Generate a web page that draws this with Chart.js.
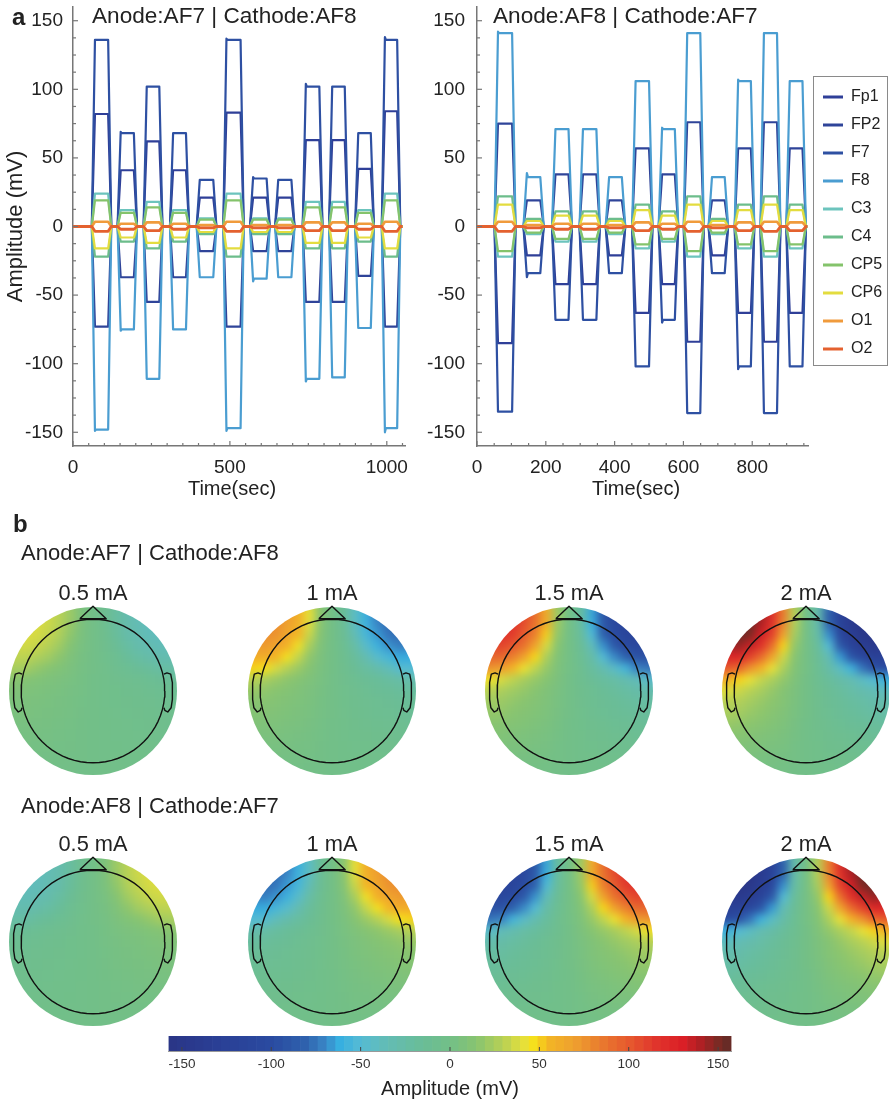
<!DOCTYPE html>
<html><head><meta charset="utf-8">
<style>
html,body{margin:0;padding:0;background:#fff;width:889px;height:1103px;overflow:hidden;font-family:"Liberation Sans",Arial,sans-serif;color:#222}
canvas{position:absolute;display:block}
.t{position:absolute;white-space:nowrap;line-height:1;color:#222}
.heat{position:absolute;overflow:hidden}
.heat canvas{left:0;top:0;filter:blur(4px)}
</style>
<script src="https://cdn.jsdelivr.net/npm/chart.js@4/dist/chart.umd.min.js"></script>
</head><body>
<script>
/* ---------- channels ---------- */
const channels=['Fp1','FP2','F7','F8','C3','C4','CP5','CP6','O1','O2'];
const channelColors=['#2f3f98','#2f4499','#2e50a2','#4a9dd1','#6cc4bd','#6cbd8b','#84c36b','#e3dc3f','#f09b3c','#e4612f'];
const channelWidths=[2.2,2.2,2.2,2.2,2.2,2.2,2.2,2.2,2.6,2.8];

/* ---------- panel a, left: block on/off times (sec) ---------- */
const leftOn =[70,152,235,319,404,489,574,654,742,826,909,994];
const leftOff=[112,194,275,360,447,534,617,696,785,866,949,1033];
const leftEnd=1050;
const leftFp1=[82,41,62,41,21,83,21,21,63,63,42,84];
const leftFP2=[-73,-37,-55,-37,-18,-73,-18,-18,-55,-55,-36,-73];
const leftF7 =[136,68,102,68,34,136,35,34,102,102,68,136];
const leftF8 =[-148,-75,-111,-75,-37,-147,-38,-37,-111,-110,-74,-147];
const leftC3 =[24,12,18,12,6,24,6,6,18,18,12,24];
const leftC4 =[-22,-11,-16,-11,-5.5,-22,-5.5,-5.5,-16,-16,-11,-22];
const leftCP5=[19,10,14,10,5,19,5,5,14,14,10,19];
const leftCP6=[-16,-8,-12,-8,-4,-16,-4,-4,-12,-12,-8,-16];
const leftO1 =[3.5,2,3,2,1,3.5,1,1,3,3,2,3.5];
const leftO2 =[-3.5,-2,-3,-2,-1,-3.5,-1,-1,-3,-3,-2,-3.5];
const leftF7Rise=[136,69,102,68,34,137,36,34,104,102,68,138];
const leftF8Rise=[-149,-76,-111,-75,-37,-149,-40,-37,-113,-110,-74,-150];

/* ---------- panel a, right ---------- */
const rightOn =[61,145,228,308,384,461,538,611,683,759,834,909];
const rightOff=[102,184,266,347,421,500,575,649,720,796,872,946];
const rightEnd=960;
const rightFp1=[-85,-21,-42,-42,-21,-63,-42,-84,-21,-63,-84,-63];
const rightFP2=[75,19,38,38,19,57,38,76,19,57,76,57];
const rightF7 =[-135,-34,-68,-68,-34,-102,-68,-136,-34,-102,-136,-102];
const rightF8 =[141,36,71,71,36,106,71,141,36,106,141,106];
const rightC3 =[-22,-5.5,-11,-11,-5.5,-16,-11,-22,-5.5,-16,-22,-16];
const rightC4 =[22,5.5,11,11,5.5,16,11,22,5.5,16,22,16];
const rightCP5=[-18,-4.5,-9,-9,-4.5,-13,-9,-18,-4.5,-13,-18,-13];
const rightCP6=[16,4,8,8,4,12,8,16,4,12,16,12];
const rightO1 =[3.5,1,2,2,1,3,2,3.5,1,3,3.5,3];
const rightO2 =[-3.5,-1,-2,-2,-1,-3,-2,-3.5,-1,-3,-3.5,-3];
const rightF7Rise=[-135,-37,-68,-68,-34,-102,-70,-136,-34,-104,-136,-102];
const rightF8Rise=[142,39,71,71,36,106,72,141,36,107,141,106];
const rampSec=10;

/* ---------- panel b: AF7 anode, 2 mA, left half in mV, rows top to bottom, columns rim to midline ---------- */
const topoRows=[
 [120,120,130,130,125,105,70,22,0],
 [140,145,150,155,145,120,85,30,0],
 [150,150,155,155,140,118,80,28,2],
 [150,150,155,150,132,110,68,24,2],
 [140,140,145,135,118,90,50,18,2],
 [125,125,125,110,92,66,35,14,2],
 [100,100,95,75,58,42,26,11,2],
 [60,60,50,42,33,26,18,9,1],
 [40,40,35,30,25,19,13,7,1],
 [30,30,28,24,20,16,12,6,1],
 [25,25,24,20,17,14,10,5,1],
 [20,20,18,16,14,11,8,4,0],
 [15,15,14,12,10,8,6,3,0],
 [10,10,10,9,8,6,5,2,0],
 [8,8,7,6,5,4,3,2,0],
 [5,5,5,4,3,3,2,1,0],
 [3,3,3,3,2,2,1,1,0]
];
const currentLabels=['0.5 mA','1 mA','1.5 mA','2 mA'];
const currentRatio=[0.25,0.5,0.75,1];
const earLeft=[[-.845,.2],[-.88,.215],[-.925,.2],[-.945,.1],[-.945,-.1],[-.93,-.2],[-.89,-.25],[-.855,-.23],[-.845,-.2]];
const nose=[[-.157,.86],[0,1.01],[.157,.86],[-.157,.86]];

/* ---------- colour bar ---------- */
const cbarStops=[[-157.5,'#2a3586'],[-130,'#2a3f95'],[-100,'#2a4aa0'],[-80,'#2f63ae'],[-70,'#3a85c5'],[-62,'#36aee0'],[-50,'#55bbd4'],[-35,'#63bcb4'],[-15,'#6abd97'],[0,'#72bf88'],[15,'#88c470'],[30,'#b8d155'],[42,'#e8e038'],[48,'#f8e016'],[55,'#f3b525'],[70,'#eea02f'],[85,'#e9792e'],[100,'#e65a2e'],[115,'#e0352c'],[130,'#dc1f26'],[140,'#b02024'],[150,'#7c2a24'],[157.5,'#5e2b27']];
const cbarTicks=[-150,-100,-50,0,50,100,150];
const cbarSegments=64;

/* ---------- helpers ---------- */
Chart.defaults.font.family='"Liberation Sans",Arial,sans-serif';
Chart.defaults.color='#222';
Chart.defaults.animation=false;
Chart.defaults.responsive=false;
Chart.defaults.plugins.legend.display=false;
Chart.defaults.plugins.tooltip.enabled=false;

function hex(c){return [1,3,5].map(i=>parseInt(c.substr(i,2),16));}
function colorFor(v){
  const s=cbarStops; if(v<=s[0][0])return s[0][1]; if(v>=s[s.length-1][0])return s[s.length-1][1];
  for(let i=1;i<s.length;i++) if(v<=s[i][0]){
    const k=(v-s[i-1][0])/(s[i][0]-s[i-1][0]),a=hex(s[i-1][1]),b=hex(s[i][1]);
    return 'rgb('+a.map((x,j)=>Math.round(x+(b[j]-x)*k)).join(',')+')';
  }
}
function mount(w,h,l,t,parent){
  const c=document.createElement('canvas');c.width=w;c.height=h;c.style.left=l+'px';c.style.top=t+'px';c.style.width=w+'px';c.style.height=h+'px';
  (parent||document.body).appendChild(c);return c;
}
function label(text,x,y,size,o={}){
  const d=document.createElement('div');d.className='t';d.textContent=text;
  d.style.left=x+'px';d.style.top=y+'px';d.style.fontSize=size+'px';
  if(o.bold)d.style.fontWeight='700';
  d.style.transform=o.center?'translate(-50%,-50%)':'translateY(-50%)';
  document.body.appendChild(d);
}
function blockSeries(on,off,vals,rise,end){
  const p=[{x:0,y:0}];
  on.forEach((t,i)=>{
    p.push({x:t-rampSec,y:0},{x:t,y:rise?rise[i]:vals[i]},{x:t+3,y:vals[i]},{x:off[i],y:vals[i]},{x:off[i]+rampSec,y:0});
  });
  p.push({x:end,y:0});return p;
}
const noPad=s=>{s.paddingTop=s.paddingBottom=s.paddingLeft=s.paddingRight=0};
const innerTicks={id:'innerTicks',afterDraw(ch,_,o){
  const c=ch.ctx;c.save();c.strokeStyle=o.color||'#777';c.lineWidth=o.width||1.2;
  const xs=ch.scales.x,ys=ch.scales.y,a=ch.chartArea;
  xs.ticks.forEach(t=>{const p=xs.getPixelForValue(t.value),L=t.value%(o.xMajor)===0?o.major:o.minor;
    c.beginPath();c.moveTo(p,a.bottom);c.lineTo(p,a.bottom-L);c.stroke();});
  if(o.yMajor) ys.ticks.forEach(t=>{const p=ys.getPixelForValue(t.value),L=t.value%(o.yMajor)===0?o.major:o.minor;
    c.beginPath();c.moveTo(a.left,p);c.lineTo(a.left+L,p);c.stroke();});
  c.restore();
}};
function eegChart(canvas,padding,series,xMax,xLabelStep,yAxisTitle,yTickPad){
  return new Chart(canvas,{type:'line',
    data:{datasets:series.map((d,i)=>({label:channels[i],data:d,borderColor:channelColors[i],backgroundColor:channelColors[i],borderWidth:channelWidths[i],borderJoinStyle:'round',pointRadius:0,tension:0,order:channels.length-i}))},
    options:{parsing:false,normalized:true,layout:{autoPadding:false,padding},
      scales:{
        x:{type:'linear',min:0,max:xMax,border:{color:'#777',width:1.5},grid:{display:false,drawTicks:false},
           afterFit:s=>{s.height=54;noPad(s)},
           ticks:{stepSize:50,includeBounds:false,autoSkip:false,maxRotation:0,padding:10,font:{size:19},color:'#222',callback:v=>v%xLabelStep===0?String(v):''}},
        y:{type:'linear',min:-160,max:160,border:{color:'#777',width:1.5},grid:{display:false,drawTicks:false},
           afterFit:s=>{s.width=padding.yWidth;noPad(s)},
           title:{display:!!yAxisTitle,text:yAxisTitle||'',font:{size:22},color:'#222',padding:{top:3,bottom:0}},
           ticks:{stepSize:12.5,includeBounds:false,autoSkip:false,padding:yTickPad,font:{size:19},color:'#222',callback:v=>v%50===0?String(v):''}}
      },
      plugins:{innerTicks:{xMajor:xLabelStep,yMajor:50,major:5,minor:3}}},
    plugins:[innerTicks]});
}

/* ---------- panel a charts ---------- */
const L=[leftFp1,leftFP2,leftF7,leftF8,leftC3,leftC4,leftCP5,leftCP6,leftO1,leftO2];
const R=[rightFp1,rightFP2,rightF7,rightF8,rightC3,rightC4,rightCP5,rightCP6,rightO1,rightO2];
const leftRise={2:leftF7Rise,3:leftF8Rise}, rightRise={2:rightF7Rise,3:rightF8Rise};
eegChart(mount(415,500,0,0),{left:0,top:7,right:10,bottom:0,yWidth:73},L.map((v,i)=>blockSeries(leftOn,leftOff,v,leftRise[i],leftEnd)),1058,500,'Amplitude (mV)',10);
eegChart(mount(389,500,420,0),{left:0,top:7,right:0,bottom:0,yWidth:57},R.map((v,i)=>blockSeries(rightOn,rightOff,v,rightRise[i],rightEnd)),965,200,'',12);

/* legend */
const lb=document.createElement('div');
lb.style.cssText='position:absolute;left:813px;top:76px;width:75px;height:290px;border:1.5px solid #8a8a8a;box-sizing:border-box';
document.body.appendChild(lb);
new Chart(mount(76,340,-3,0,lb),{type:'line',
  data:{labels:[],datasets:channels.map((n,i)=>({label:n,data:[],backgroundColor:channelColors[i],borderColor:channelColors[i],borderWidth:0}))},
  options:{layout:{autoPadding:false},scales:{x:{display:false},y:{display:false}},
    plugins:{legend:{display:true,position:'left',align:'start',maxWidth:76,labels:{boxWidth:20,boxHeight:3,padding:12,font:{size:16,lineHeight:1.2},color:'#222'}}}}});

/* ---------- panel b heads ---------- */
function head(cx,cy,ratio,mirror){
  const R0=84,half=105,size=2*half;
  const wrap=document.createElement('div');wrap.className='heat';
  wrap.style.cssText+=`left:${cx-half}px;top:${cy-half}px;width:${size}px;height:${size}px;clip-path:circle(${R0}px at ${half}px ${half}px)`;
  document.body.appendChild(wrap);
  const step=1/7.5, pts=[], cols=[];
  topoRows.forEach((row,r)=>{
    const y=(8-r)*step;
    row.forEach((v,c)=>{
      const x=(c-8)*step, val=v*ratio;
      pts.push({x:mirror?-x:x,y});cols.push(colorFor(val));
      if(c<8){pts.push({x:mirror?x:-x,y});cols.push(colorFor(-val));}
    });
  });
  const axes={x:{type:'linear',min:-1.25,max:1.25,display:false},y:{type:'linear',min:-1.25,max:1.25,display:false}};
  new Chart(mount(size,size,0,0,wrap),{type:'scatter',
    data:{datasets:[{data:pts,pointStyle:'rect',pointRadius:8.5,pointBorderWidth:0,borderWidth:0,backgroundColor:cols}]},
    options:{parsing:false,layout:{autoPadding:false,padding:0},scales:axes,clip:false}});
  const circle=[];for(let a=0;a<=72;a++)circle.push({x:.855*Math.cos(a*Math.PI/36),y:.855*Math.sin(a*Math.PI/36)});
  const toP=s=>a=>({x:s*a[0],y:a[1]});
  const outl=[circle,nose.map(toP(1)),earLeft.map(toP(1)),earLeft.map(toP(-1))];
  new Chart(mount(size,size,cx-half,cy-half),{type:'scatter',
    data:{datasets:outl.map(d=>({data:d,showLine:true,pointRadius:0,borderColor:'#111',borderWidth:1.4,borderJoinStyle:'round',tension:0,fill:false}))},
    options:{parsing:false,layout:{autoPadding:false,padding:0},scales:axes}});
}
const headX=[93,332,569,806];
const rowY=[691,942];
rowY.forEach((y,r)=>headX.forEach((x,i)=>{
  head(x,y,currentRatio[i],r===1);
  label(currentLabels[i],x,y-98,21.8,{center:true});
}));

/* ---------- colour bar ---------- */
const segW=315/cbarSegments;
const segPts=[],segCols=[];
for(let i=0;i<cbarSegments;i++){const c=-157.5+(i+.5)*segW;segPts.push({x:c,y:1});segCols.push(colorFor(c));}
new Chart(mount(600,73,150,1030),{type:'bar',
  data:{datasets:[{data:segPts,backgroundColor:segCols,barPercentage:1,categoryPercentage:1,borderWidth:0}]},
  options:{parsing:false,layout:{autoPadding:false,padding:{left:18.5,right:18.5,top:6,bottom:0}},
    scales:{
      x:{type:'linear',min:-157.5,max:157.5,offset:false,border:{color:'#999',width:1},grid:{display:false,drawTicks:false},
         afterFit:s=>{s.height=52;noPad(s)},afterBuildTicks:s=>{s.ticks=cbarTicks.map(v=>({value:v}))},
         title:{display:true,text:'Amplitude (mV)',font:{size:20},color:'#222',padding:{top:0,bottom:2}},
         ticks:{autoSkip:false,maxRotation:0,padding:5,font:{size:13.5},color:'#333'}},
      y:{type:'linear',min:0,max:1,display:false}
    },
    plugins:{innerTicks:{xMajor:50,major:4,minor:4,color:'#444',width:1}}},
  plugins:[innerTicks]});

/* ---------- text ---------- */
label('a',12,17,24,{bold:true});
label('b',13,524,24,{bold:true});
label('Anode:AF7 | Cathode:AF8',92,16,22.6);
label('Anode:AF8 | Cathode:AF7',493,16,22.6);
label('Time(sec)',232,488,20,{center:true});
label('Time(sec)',636,488,20,{center:true});
label('Anode:AF7 | Cathode:AF8',21,553,22);
label('Anode:AF8 | Cathode:AF7',21,806,22);
</script>
</body></html>
